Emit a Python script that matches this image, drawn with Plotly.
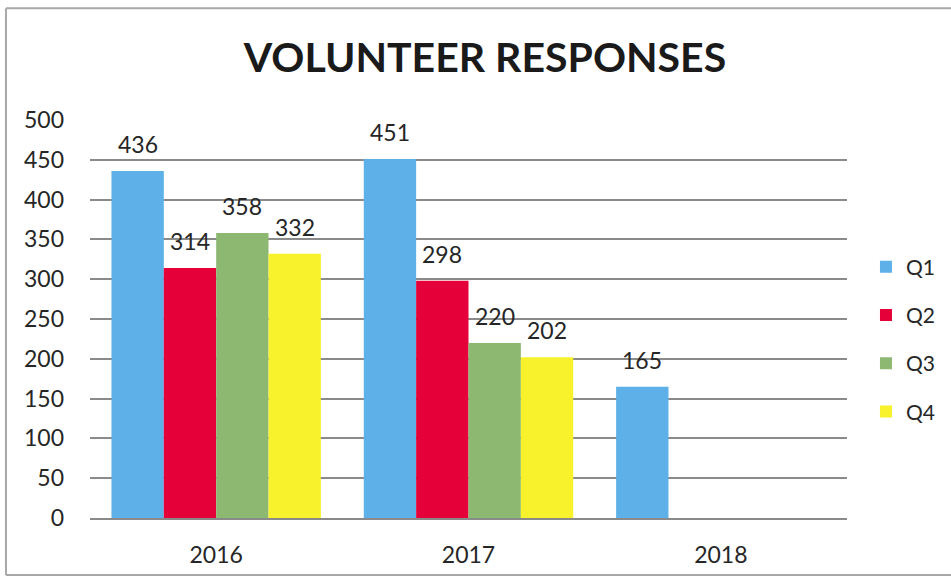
import plotly.graph_objects as go

# Volunteer responses per year, by quarter
years = ["2016", "2017", "2018"]
quarters = ["Q1", "Q2", "Q3", "Q4"]
q1 = [436, 451, 165]
q2 = [314, 298, None]
q3 = [358, 220, None]
q4 = [332, 202, None]
series = [q1, q2, q3, q4]
colors = ["#5DB1E8", "#E6003A", "#8DB872", "#F7F22B"]
y_ticks = [0, 50, 100, 150, 200, 250, 300, 350, 400, 450, 500]

FONT = "Lato, 'Open Sans', sans-serif"
TEXT = "#262626"
BARGAP = 0.17

fig = go.Figure()
for i, (name, vals, col) in enumerate(zip(quarters, series, colors)):
    fig.add_trace(go.Bar(
        x=years, y=vals, name=name, marker_color=col, marker_line_width=0,
        legendgroup=name,
    ))

# value labels sitting a fixed distance above each bar
bar_w = (1 - BARGAP) / len(quarters)
for i, vals in enumerate(series):
    for j, v in enumerate(vals):
        if v is None:
            continue
        fig.add_annotation(
            x=j + (i - (len(quarters) - 1) / 2) * bar_w, y=v, xref="x", yref="y",
            text=str(v), showarrow=False, yshift=27,
            font=dict(family=FONT, size=23, color=TEXT),
        )

# light frame around the chart (left, top and bottom edges)
frame = dict(color="#A8A8A8", width=2)
for x0, y0, x1, y1 in [(-0.111, -0.143, -0.111, 1.281),
                       (-0.111, 1.281, 1.2, 1.281),
                       (-0.111, -0.143, 1.2, -0.143)]:
    fig.add_shape(type="line", xref="paper", yref="paper",
                  x0=x0, y0=y0, x1=x1, y1=y1, line=frame, layer="below")

fig.update_layout(
    width=951, height=580,
    margin=dict(l=90, r=103, t=120, b=62),
    paper_bgcolor="white", plot_bgcolor="white",
    barmode="group", bargap=BARGAP, bargroupgap=0,
    title=dict(text="<b>VOLUNTEER RESPONSES</b>", x=0.51, xref="container",
               xanchor="center", y=0.90, yref="container", yanchor="middle",
               font=dict(family=FONT, size=41, color="#1a1a1a")),
    font=dict(family=FONT, color=TEXT),
    legend=dict(x=1.0237, xanchor="left", y=0.4485, yanchor="middle",
                font=dict(family=FONT, size=21, color=TEXT),
                tracegroupgap=18, bgcolor="rgba(0,0,0,0)"),
    showlegend=True,
)
fig.update_yaxes(range=[0, 500], tickvals=y_ticks, showgrid=True,
                 gridcolor="#8A8A8A", gridwidth=2, zeroline=False,
                 showline=False, ticks="", ticklabelstandoff=25,
                 tickfont=dict(family=FONT, size=23, color=TEXT))
fig.update_xaxes(showline=True, linecolor="#8A8A8A", linewidth=2,
                 ticks="", ticklabelstandoff=15,
                 tickfont=dict(family=FONT, size=23, color=TEXT))

fig.write_html("out.html")
